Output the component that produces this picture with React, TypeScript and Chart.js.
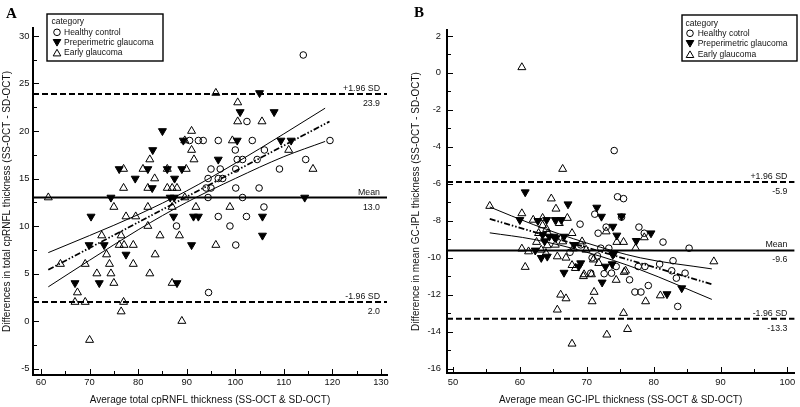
import React, { useEffect, useRef } from "react";
import { Chart, registerables } from "chart.js";

Chart.register(...registerables);

type Pt = [number, number];

// ---------------- Panel A data (cpRNFL) ----------------
const healthyA: Pt[] = [
  [114, 28], [102.4, 21], [119.5, 19], [90.6, 19], [92.4, 19], [93.4, 19], [96.5, 19], [103.5, 19],
  [100, 18], [106, 18], [100.4, 17], [101.5, 17], [104.5, 17], [114.5, 17], [95, 16], [96.9, 16],
  [100.1, 16], [109.1, 16], [94.4, 15], [96.5, 15], [97.4, 15], [94, 14], [95, 14], [100.1, 14],
  [104.9, 14], [94.4, 13], [101.5, 13], [105.9, 12], [96.5, 11], [102.3, 11], [87.9, 10], [98.9, 10],
  [100.1, 8], [94.5, 3],
];
const prepA: Pt[] = [
  [105, 24], [101, 22], [108, 22], [85, 20], [89.3, 19], [100.4, 19], [109.4, 19], [111.5, 19],
  [83, 18], [96.5, 17], [76.1, 16], [82, 16], [86, 16], [89, 16], [79.4, 15], [87.5, 15],
  [82.9, 14], [74.4, 13], [86.6, 13], [87.4, 13], [114.3, 13], [70.3, 11], [87.3, 11], [91.4, 11],
  [92.4, 11], [105.6, 11], [105.6, 9], [69.9, 8], [73, 8], [91, 8], [77.5, 7], [67, 4], [72, 4], [88, 4],
];
const earlyA: Pt[] = [
  [96, 24], [100.5, 23], [100.5, 21], [105.5, 21], [91, 20], [99.4, 19], [89.6, 19], [91, 18],
  [111, 18], [82.4, 17], [91.5, 17], [77, 16], [81, 16], [86, 16], [89.9, 16], [116, 16],
  [83.4, 15], [77, 14], [82, 14], [86, 14], [87, 14], [88, 14], [61.5, 13], [89.6, 13],
  [75, 12], [82, 12], [87, 12], [91.9, 12], [98.9, 12], [77.5, 11], [79.5, 11], [82, 10],
  [72.5, 9], [76.5, 9], [84.5, 9], [88.5, 9], [76.1, 8], [77.1, 8], [79, 8], [96, 8],
  [73.5, 7], [83.5, 7], [64, 6], [69.1, 6], [74.1, 6], [79, 6], [71.5, 5], [74.4, 5],
  [82.4, 5], [75, 4], [87, 4], [67.5, 3], [67, 2], [69.1, 2], [77, 2], [76.5, 1], [89, 0], [70, -2],
];
const regressionA: Pt[] = [[61.5, 5.4], [119.4, 21.0]];
const ciUpperA: Pt[] = [[61.5, 7.2], [70, 9.0], [80, 11.2], [90, 13.7], [100, 16.6], [110, 19.7], [118.5, 22.4]];
const ciLowerA: Pt[] = [[61.5, 3.6], [70, 6.4], [80, 9.6], [90, 12.5], [100, 15.0], [110, 17.3], [118.5, 18.9]];
const refValuesA = [23.9, 13.0, 2.0];
const refValueLabelsA = ["23.9", "13.0", "2.0"];
const xTicksA = [60, 70, 80, 90, 100, 110, 120, 130];
const xMinorA = [65, 75, 85, 95, 105, 115, 125];
const yTicksA = [-5, 0, 5, 10, 15, 20, 25, 30];
const yMinorA = [-2.5, 2.5, 7.5, 12.5, 17.5, 22.5, 27.5];
const legendNamesA = ["Healthy control", "Preperimetric glaucoma", "Early glaucoma"];

// ---------------- Panel B data (GC-IPL) ----------------
const healthyB: Pt[] = [
  [74.1, -4.2], [74.6, -6.7], [75.5, -6.8], [71.2, -7.64], [75.2, -7.8], [69.0, -8.18], [72.9, -8.34],
  [71.7, -8.67], [77.8, -8.34], [78.6, -8.67], [81.4, -9.15], [85.3, -9.48], [72.1, -9.48], [73.3, -9.48],
  [77.7, -10.47], [78.7, -10.47], [80.9, -10.34], [82.9, -10.16], [82.7, -10.7], [84.7, -10.83],
  [83.4, -11.1], [74.4, -10.47], [70.6, -10.83], [72.6, -10.86], [73.7, -10.83], [76.4, -11.19],
  [79.2, -11.5], [77.2, -11.85], [78.1, -11.85], [83.6, -12.63], [69.1, -9.3], [67.5, -9.7],
  [70.8, -10.0], [71.6, -9.9],
];
const prepB: Pt[] = [
  [60.8, -6.45], [67.2, -7.1], [71.5, -7.28], [72.2, -7.77], [75.2, -7.75], [73.9, -8.31], [74.5, -8.79],
  [79.6, -8.67], [77.4, -9.08], [60.0, -7.95], [62.7, -8.0], [64.0, -7.95], [65.3, -7.95], [66.2, -7.95],
  [63.4, -8.76], [64.4, -8.85], [65.1, -8.85], [64.1, -9.93], [66.6, -10.8], [68.1, -9.3], [73.9, -9.84],
  [72.8, -10.47], [73.8, -10.34], [68.8, -10.47], [72.3, -11.33], [82.0, -11.96], [84.2, -11.64],
  [63.7, -9.1], [65.4, -8.93], [66.6, -8.85], [69.1, -10.29], [74.1, -9.75], [62.3, -9.6], [63.2, -10.0],
];
const earlyB: Pt[] = [
  [60.3, 0.3], [66.4, -5.2], [64.7, -6.8], [55.5, -7.2], [65.4, -7.35], [60.3, -7.6], [62.0, -7.95],
  [63.4, -7.85], [67.1, -7.85], [63.4, -8.25], [64.0, -8.45], [62.5, -9.15], [64.1, -9.33], [65.3, -9.3],
  [66.4, -9.12], [60.3, -9.51], [61.3, -9.66], [60.8, -10.5], [67.8, -10.4], [72.9, -8.58], [74.5, -9.15],
  [75.5, -9.15], [78.6, -8.9], [77.3, -9.48], [89.0, -10.2], [75.6, -10.77], [71.8, -10.29], [69.6, -10.9],
  [70.7, -10.9], [74.4, -11.2], [75.8, -10.7], [78.8, -12.36], [81.0, -12.04], [66.1, -12.0], [66.9, -12.2],
  [71.1, -11.85], [70.8, -12.36], [65.6, -12.81], [75.5, -12.99], [76.1, -13.86], [73.0, -14.16],
  [67.8, -14.65], [69.3, -9.12], [69.9, -9.57], [71.0, -10.1], [63.9, -9.75], [65.6, -9.93], [66.9, -10.0],
  [68.3, -10.56], [69.5, -11.0], [62.8, -8.67], [64.2, -8.67], [67.8, -8.67], [65.9, -8.13], [63.2, -9.57],
  [68.0, -9.5],
];
const regressionB: Pt[] = [[55.5, -7.9], [88.9, -11.45]];
const ciUpperB: Pt[] = [[55.5, -7.25], [62, -8.2], [70, -9.2], [78, -10.0], [88.7, -10.6]];
const ciLowerB: Pt[] = [[55.5, -8.65], [62, -9.0], [70, -9.7], [78, -10.65], [88.7, -12.25]];
const refValuesB = [-5.9, -9.6, -13.3];
const refValueLabelsB = ["-5.9", "-9.6", "-13.3"];
const xTicksB = [50, 60, 70, 80, 90, 100];
const xMinorB = [55, 65, 75, 85, 95];
const yTicksB = [-16, -14, -12, -10, -8, -6, -4, -2, 0, 2];
const yMinorB = [-15, -13, -11, -9, -7, -5, -3, -1, 1];
const legendNamesB = ["Healthy cotrol", "Preperimetric glaucoma", "Early glaucoma"];

const refNames = ["+1.96 SD", "Mean", "-1.96 SD"];

const SANS = "'Liberation Sans', Arial, Helvetica, sans-serif";
const SERIF = "'Liberation Serif', 'Times New Roman', serif";

interface Spec {
  letter: string; letterX: number; letterY: number;
  healthy: Pt[]; prep: Pt[]; early: Pt[];
  reg: Pt[]; ciU: Pt[]; ciL: Pt[];
  refValues: number[]; refValueLabels: string[];
  xTicks: number[]; xMinor: number[]; yTicks: number[]; yMinor: number[];
  xMin: number; xMax: number; yMin: number; yMax: number;
  xTitle: string; yTitle: string; legendNames: string[];
  padTop: number; padRight: number; yWidth: number; xHeight: number;
  yTickPad: number; xTickPad: number; yTitlePad: number;
  box: { x: number; y: number; w: number; h: number };
  catX: number; catY: number; markerX: number; textX: number; rows: number[];
}

const specA: Spec = {
  letter: "A", letterX: 6, letterY: 17.5,
  healthy: healthyA, prep: prepA, early: earlyA,
  reg: regressionA, ciU: ciUpperA, ciL: ciLowerA,
  refValues: refValuesA, refValueLabels: refValueLabelsA,
  xTicks: xTicksA, xMinor: xMinorA, yTicks: yTicksA, yMinor: yMinorA,
  xMin: 58.35, xMax: 131.24, yMin: -5.68, yMax: 30.84,
  xTitle: "Average total cpRNFL thickness (SS-OCT & SD-OCT)",
  yTitle: "Differences in total cpRNFL thickness (SS-OCT - SD-OCT)",
  legendNames: legendNamesA,
  padTop: 28, padRight: 13, yWidth: 33, xHeight: 32,
  yTickPad: 3.5, xTickPad: 2, yTitlePad: 1.5,
  box: { x: 47, y: 14, w: 116, h: 47 },
  catX: 51.5, catY: 21.7, markerX: 57, textX: 64, rows: [32.3, 42.7, 52.7],
};

const specB: Spec = {
  letter: "B", letterX: 14, letterY: 16.5,
  healthy: healthyB, prep: prepB, early: earlyB,
  reg: regressionB, ciU: ciUpperB, ciL: ciLowerB,
  refValues: refValuesB, refValueLabels: refValueLabelsB,
  xTicks: xTicksB, xMinor: xMinorB, yTicks: yTicksB, yMinor: yMinorB,
  xMin: 49.11, xMax: 101.04, yMin: -16.23, yMax: 2.32,
  xTitle: "Average mean GC-IPL thickness (SS-OCT & SD-OCT)",
  yTitle: "Difference in mean GC-IPL thickness (SS-OCT - SD-OCT)",
  legendNames: legendNamesB,
  padTop: 30, padRight: 3, yWidth: 47, xHeight: 34,
  yTickPad: 6, xTickPad: 4, yTitlePad: 10,
  box: { x: 282, y: 15, w: 115, h: 46 },
  catX: 285.5, catY: 23.3, markerX: 290, textX: 297.7, rows: [33.3, 43.7, 54.3],
};

const pts = (a: Pt[]) => a.map(([x, y]) => ({ x, y }));

function drawMarker(ctx: CanvasRenderingContext2D, kind: string, x: number, y: number) {
  ctx.save();
  ctx.lineWidth = 1;
  ctx.strokeStyle = "#000";
  ctx.fillStyle = "#000";
  ctx.setLineDash([]);
  ctx.beginPath();
  if (kind === "circle") {
    ctx.arc(x, y, 3.3, 0, Math.PI * 2);
    ctx.stroke();
  } else {
    const r = 4.4;
    const up = kind === "up";
    let rad = up ? 0 : Math.PI;
    for (let i = 0; i < 3; i++) {
      const px = x + Math.sin(rad) * r;
      const py = y - Math.cos(rad) * r;
      if (i === 0) ctx.moveTo(px, py); else ctx.lineTo(px, py);
      rad += (Math.PI * 2) / 3;
    }
    ctx.closePath();
    if (up) ctx.stroke(); else { ctx.fill(); ctx.stroke(); }
  }
  ctx.restore();
}

function decoPlugin(s: Spec) {
  return {
    id: "deco",
    beforeDatasetsDraw(chart: any) {
      const { ctx, chartArea: ca } = chart;
      const ys = chart.scales.y;
      ctx.save();
      ctx.strokeStyle = "#000";
      ctx.lineWidth = 2;
      s.refValues.forEach((v, i) => {
        const py = ys.getPixelForValue(v);
        ctx.setLineDash(i === 1 ? [] : [6, 3]);
        ctx.beginPath();
        ctx.moveTo(ca.left, py);
        ctx.lineTo(ca.right, py);
        ctx.stroke();
      });
      ctx.restore();
    },
    afterDraw(chart: any) {
      const { ctx, chartArea: ca } = chart;
      const xs = chart.scales.x;
      const ys = chart.scales.y;
      ctx.save();
      // reference line labels
      ctx.fillStyle = "#111";
      ctx.font = `8.8px ${SANS}`;
      ctx.textAlign = "right";
      ctx.textBaseline = "alphabetic";
      s.refValues.forEach((v, i) => {
        const py = ys.getPixelForValue(v);
        ctx.fillText(refNames[i], ca.right - 7, py - 3);
        ctx.fillText(s.refValueLabels[i], ca.right - 7, py + 12);
      });
      // inward ticks
      ctx.strokeStyle = "#000";
      ctx.lineWidth = 1;
      ctx.setLineDash([]);
      ctx.beginPath();
      const xt = (vals: number[], len: number) =>
        vals.forEach((v) => {
          const px = Math.round(xs.getPixelForValue(v)) + 0.5;
          ctx.moveTo(px, ca.bottom - 1);
          ctx.lineTo(px, ca.bottom - 1 - len);
        });
      const yt = (vals: number[], len: number) =>
        vals.forEach((v) => {
          const py = Math.round(ys.getPixelForValue(v)) + 0.5;
          ctx.moveTo(ca.left + 1, py);
          ctx.lineTo(ca.left + 1 + len, py);
        });
      xt(s.xTicks, 5); xt(s.xMinor, 3);
      yt(s.yTicks, 5); yt(s.yMinor, 3);
      ctx.stroke();
      // legend
      const b = s.box;
      ctx.fillStyle = "#fff";
      ctx.fillRect(b.x, b.y, b.w, b.h);
      ctx.lineWidth = 1.4;
      ctx.strokeStyle = "#000";
      ctx.strokeRect(b.x, b.y, b.w, b.h);
      ctx.fillStyle = "#111";
      ctx.font = `8.5px ${SANS}`;
      ctx.textAlign = "left";
      ctx.textBaseline = "middle";
      ctx.fillText("category", s.catX, s.catY);
      const kinds = ["circle", "down", "up"];
      s.legendNames.forEach((name, i) => {
        drawMarker(ctx, kinds[i], s.markerX, s.rows[i] + (kinds[i] === "up" ? 1 : kinds[i] === "down" ? -1 : 0));
        ctx.fillStyle = "#111";
        ctx.fillText(name, s.textX, s.rows[i]);
      });
      // panel letter
      ctx.fillStyle = "#000";
      ctx.font = `bold 15px ${SERIF}`;
      ctx.textBaseline = "alphabetic";
      ctx.fillText(s.letter, s.letterX, s.letterY);
      ctx.restore();
    },
  };
}

function buildConfig(s: Spec): any {
  const tickFont = { family: SANS, size: 9.4 };
  const titleFont = { family: SANS, size: 10 };
  return {
    type: "scatter",
    data: {
      datasets: [
        {
          label: s.legendNames[0], data: pts(s.healthy),
          pointStyle: "circle", pointRadius: 3.3, pointBorderWidth: 1,
          pointBorderColor: "#000", pointBackgroundColor: "rgba(0,0,0,0)",
        },
        {
          label: s.legendNames[1], data: pts(s.prep),
          pointStyle: "triangle", pointRotation: 180, pointRadius: 4.6, pointBorderWidth: 1,
          pointBorderColor: "#000", pointBackgroundColor: "#000",
        },
        {
          label: s.legendNames[2], data: pts(s.early),
          pointStyle: "triangle", pointRadius: 4.6, pointBorderWidth: 1,
          pointBorderColor: "#000", pointBackgroundColor: "rgba(0,0,0,0)",
        },
        {
          label: "Regression line", data: pts(s.reg), showLine: true, pointRadius: 0,
          borderColor: "#000", borderWidth: 1.8, borderDash: [6, 2, 1.5, 2, 1.5, 2],
        },
        {
          label: "95% CI upper", data: pts(s.ciU), showLine: true, pointRadius: 0,
          borderColor: "#000", borderWidth: 1, cubicInterpolationMode: "monotone",
        },
        {
          label: "95% CI lower", data: pts(s.ciL), showLine: true, pointRadius: 0,
          borderColor: "#000", borderWidth: 1, cubicInterpolationMode: "monotone",
        },
      ],
    },
    options: {
      responsive: false,
      animation: false,
      devicePixelRatio: 1,
      events: [],
      layout: { padding: { left: 0, top: s.padTop, right: s.padRight, bottom: 0 } },
      plugins: { legend: { display: false }, tooltip: { enabled: false }, title: { display: false } },
      scales: {
        x: {
          type: "linear", min: s.xMin, max: s.xMax,
          afterFit: (sc: any) => { sc.height = s.xHeight; },
          afterBuildTicks: (sc: any) => { sc.ticks = s.xTicks.map((v) => ({ value: v })); },
          grid: { display: false, drawTicks: false },
          border: { display: true, width: 2, color: "#000" },
          ticks: { autoSkip: false, maxRotation: 0, minRotation: 0, padding: s.xTickPad, color: "#111", font: tickFont, callback: (v: any) => String(v) },
          title: { display: true, text: s.xTitle, color: "#111", font: titleFont, padding: { top: 0, bottom: 1 } },
        },
        y: {
          type: "linear", min: s.yMin, max: s.yMax,
          afterFit: (sc: any) => { sc.width = s.yWidth; },
          afterBuildTicks: (sc: any) => { sc.ticks = s.yTicks.map((v) => ({ value: v })); },
          grid: { display: false, drawTicks: false },
          border: { display: true, width: 2, color: "#000" },
          ticks: { autoSkip: false, padding: s.yTickPad, color: "#111", font: tickFont, callback: (v: any) => String(v) },
          title: { display: true, text: s.yTitle, color: "#111", font: titleFont, padding: { top: s.yTitlePad, bottom: 0 } },
        },
      },
    },
    plugins: [decoPlugin(s)],
  };
}

function Panel({ spec }: { spec: Spec }) {
  const ref = useRef<HTMLCanvasElement>(null);
  useEffect(() => {
    if (!ref.current) return;
    const chart = new Chart(ref.current, buildConfig(spec));
    return () => chart.destroy();
  }, [spec]);
  return <canvas ref={ref} width={400} height={407} style={{ display: "block", width: 400, height: 407 }} />;
}

export default function App() {
  return (
    <div style={{ position: "absolute", left: 0, top: 0, width: 800, height: 407, display: "flex", background: "#fff" }}>
      <Panel spec={specA} />
      <Panel spec={specB} />
    </div>
  );
}
